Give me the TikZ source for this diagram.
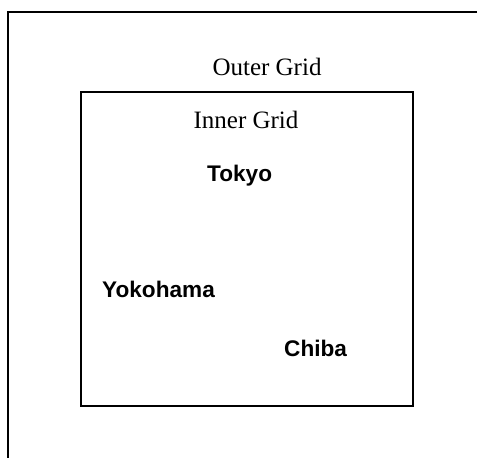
\documentclass[tikz,border=0pt]{standalone}
\usepackage{fontspec}
\setmainfont{Liberation Serif}
\newfontfamily\citysans{Liberation Sans}

\begin{document}
\begin{tikzpicture}[x=1pt,y=-1pt]
\tikzstyle{gridlabel}=[anchor=base, inner sep=0pt, font=\fontsize{25}{30}\selectfont]
\tikzstyle{city}=[anchor=base west, inner sep=0pt, font=\citysans\bfseries\fontsize{22.6}{27}\selectfont]
\tikzstyle{gridline}=[line width=1.8pt]
\useasboundingbox (0,0) rectangle (478,458);
% outer grid, cut off at the right and bottom
\draw[gridline] (477,12) -- (8,12) -- (8,458);
% inner grid
\draw[gridline] (81,92) rectangle (413,406);
\node[gridlabel] (outer) at (267,75) {Outer Grid};
\node[gridlabel] (inner) at (246,128) {Inner Grid};
\node[city] (tokyo) at (207,181) {Tokyo};
\node[city] (yokohama) at (102,297) {Yokohama};
\node[city] (chiba) at (284,356) {Chiba};
\end{tikzpicture}
\end{document}
